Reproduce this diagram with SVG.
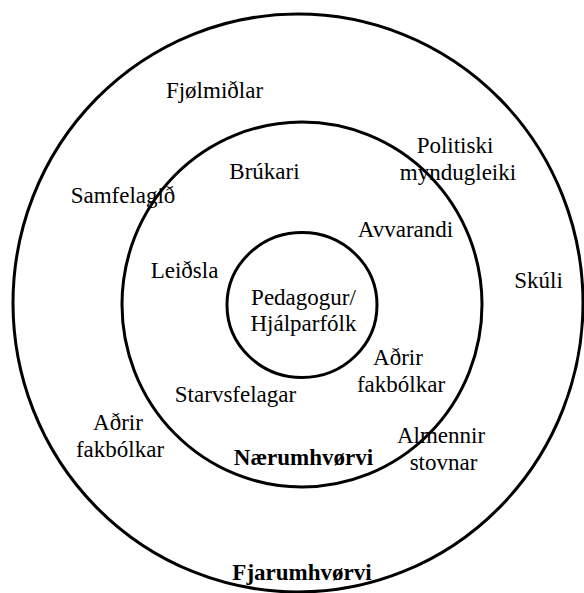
<svg xmlns="http://www.w3.org/2000/svg" width="584" height="593" viewBox="0 0 584 593">
<style>
.ring{fill:none;stroke:#000;stroke-width:3}
text{font-family:"Liberation Serif","Times New Roman",serif;font-size:23px;fill:#000;text-anchor:middle}
.b{font-weight:bold}
</style>
<rect width="584" height="593" fill="#fff"/>
<g id="fjarumhvorvi">
<ellipse class="ring" cx="298" cy="303" rx="285" ry="289"/>
<text x="214.5" y="98">Fjølmiðlar</text>
<text x="123" y="203">Samfelagið</text>
<text x="455" y="153">Politiski</text>
<text x="458" y="180">myndugleiki</text>
<text x="538.5" y="288">Skúli</text>
<text x="118" y="430">Aðrir</text>
<text x="120" y="457">fakbólkar</text>
<text x="441" y="443">Almennir</text>
<text x="443.5" y="470">stovnar</text>
<text class="b" x="302" y="580">Fjarumhvørvi</text>
</g>
<g id="naerumhvorvi">
<ellipse class="ring" cx="302" cy="304.5" rx="180" ry="182.5"/>
<text x="264.5" y="179">Brúkari</text>
<text x="405.5" y="237">Avvarandi</text>
<text x="184.5" y="278">Leiðsla</text>
<text x="398" y="365">Aðrir</text>
<text x="401" y="392">fakbólkar</text>
<text x="235.5" y="402">Starvsfelagar</text>
<text class="b" x="303.5" y="465">Nærumhvørvi</text>
</g>
<g id="pedagogur">
<ellipse class="ring" cx="302" cy="305" rx="75" ry="72.5"/>
<text x="303.5" y="305">Pedagogur/</text>
<text x="303.5" y="331">Hjálparfólk</text>
</g>
</svg>
